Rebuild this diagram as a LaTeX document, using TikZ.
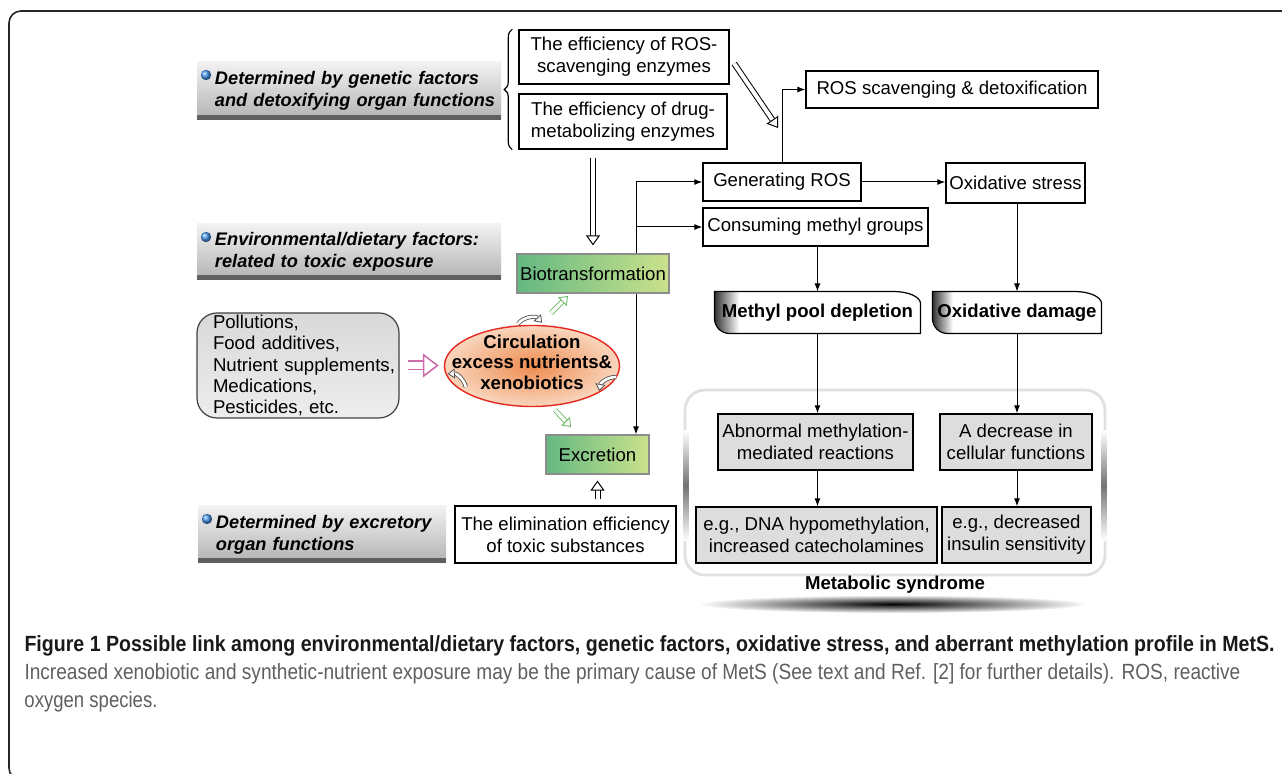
\documentclass[tikz,border=0pt]{standalone}
\usepackage{fontspec}
\usepackage{graphicx}
\setmainfont{Liberation Sans}
\usetikzlibrary{arrows.meta,positioning,calc,shapes.geometric,decorations.pathreplacing,backgrounds}

\definecolor{labtop}{RGB}{242,242,242}
\definecolor{labbot}{RGB}{178,178,178}
\definecolor{labbar}{RGB}{95,95,95}
\definecolor{bulletblue}{RGB}{70,150,235}
\definecolor{bioleft}{RGB}{100,184,130}
\definecolor{bioright}{RGB}{203,226,140}
\definecolor{boxgrey}{RGB}{221,221,221}
\definecolor{circin}{RGB}{238,140,80}
\definecolor{circout}{RGB}{249,214,190}
\definecolor{circline}{RGB}{230,40,30}
\definecolor{pinkarrow}{RGB}{205,110,170}
\definecolor{greenarrow}{RGB}{110,185,105}
\definecolor{capgrey}{RGB}{95,95,95}

\pgfdeclarehorizontalshading{tagshade}{100bp}{color(0bp)=(black!80); color(25bp)=(black!80); color(31bp)=(white); color(100bp)=(white)}

\newcommand{\txt}{\fontsize{9.3}{11}\selectfont}
\newcommand{\labtxt}{\fontsize{9.1}{11}\selectfont\bfseries\itshape}

\begin{document}
\begin{tikzpicture}[x=0.5pt, y=-0.5pt,
		> = {Latex[length=4pt,width=3pt]},
		line width=0.5pt,
		every node/.style={font=\txt, inner sep=0pt},
		plain/.style={draw, line width=0.7pt, fill=white, align=center},
		greybox/.style={plain, fill=boxgrey},
		greenbox/.style={draw=black!45, line width=0.6pt, left color=bioleft, right color=bioright},
		tagbox/.style={font=\txt\bfseries, minimum height=20.5pt},
		sidelabel/.style={top color=labtop, bottom color=labbot, text width=#1, align=left,
			font=\labtxt, execute at begin node={\leftskip=9pt},
			path picture={
				\fill[labbar] (path picture bounding box.south west) rectangle ([yshift=2.5pt]path picture bounding box.south east);
				\shade[ball color=bulletblue] ([xshift=4.5pt,yshift=-6.5pt]path picture bounding box.north west) circle (2.6pt);
			}},
		hollow/.style={draw=black, double=white, double distance=2pt, line width=0.5pt,
			-{Triangle[open, fill=white, length=5pt, width=7pt, line width=0.5pt]}},
		pinkhollow/.style={hollow, draw=pinkarrow, double distance=3.4pt, line width=0.8pt,
			-{Triangle[open, fill=white, length=8pt, width=12pt, line width=0.8pt]}},
		greenhollow/.style={hollow, draw=greenarrow, double distance=1.6pt, line width=0.45pt,
			-{Triangle[open, fill=white, length=4pt, width=6pt, line width=0.45pt]}},
		smallhollow/.style={hollow, draw=black!70, double distance=1.3pt, line width=0.4pt,
			-{Triangle[open, fill=white, length=3.5pt, width=5pt, line width=0.4pt]}}
		]
		\useasboundingbox (0,0) rectangle (1282,774);
		\clip (0,0) rectangle (1282,774);
		\draw[line width=0.8pt, black!85, rounded corners=6pt] (9,11) rectangle (1330,780);
		
		% side labels
		\node[sidelabel=152pt, minimum height=29pt] (detox) at (349,91) {Determined by genetic factors\\and detoxifying organ functions};
		\node[sidelabel=152pt, minimum height=28pt] (envir) at (349,252) {Environmental/dietary factors:\\related to toxic exposure};
		\node[sidelabel=124pt, minimum height=28.5pt] (excr) at (322,534.5) {Determined by excretory\\organ functions};
		
		% metabolic syndrome frame
		\node[draw=black!12, line width=1.4pt, rounded corners=10pt, minimum width=210pt, minimum height=92.5pt] (mets) at (895,482.5) {};
		\shade[top color=white, bottom color=white, middle color=black!55] ([yshift=26pt]mets.west) rectangle ([xshift=2.5pt,yshift=-29pt]mets.west);
		\shade[top color=white, bottom color=white, middle color=black!55] ([yshift=26pt]mets.east) rectangle ([xshift=-2.5pt,yshift=-29pt]mets.east);
		\node[font=\txt\bfseries] (msname) at (895,585) {Metabolic syndrome};
		\shade[inner color=black, outer color=white] (893,604) ellipse (195 and 9);
		
		% boxes
		\node[plain, minimum width=105pt, minimum height=27pt] (ros) at (624,57) {The efficiency of ROS-\\scavenging enzymes};
		\node[plain, minimum width=104pt, minimum height=27.5pt] (drug) at (623,121.5) {The efficiency of drug-\\metabolizing enzymes};
		\draw[decorate, decoration={brace, amplitude=4pt}, line width=0.6pt] ([xshift=-3pt]drug.south west) -- ([xshift=-3pt]ros.north west);
		\node[plain, minimum width=146pt, minimum height=18.5pt] (scav) at (952,89.5) {ROS scavenging \& detoxification};
		\node[plain, minimum width=79pt, minimum height=19pt] (gen) at (782,182) {Generating ROS};
		\node[plain, minimum width=69.5pt, minimum height=20pt] (oxs) at (1015.5,183) {Oxidative stress};
		\node[plain, minimum width=112.5pt, minimum height=19pt] (cons) at (815.5,227) {Consuming methyl groups};
		\node[greenbox, minimum width=76pt, minimum height=19.5pt] (bio) at (593,273.5) {Biotransformation};
		\node[greenbox, minimum width=51.5pt, minimum height=19.5pt] (exc) at (597.5,454.5) {Excretion};
		\node[plain, minimum width=110.5pt, minimum height=28.5pt] (elim) at (565.5,534.5) {The elimination efficiency\\of toxic substances};
		
		\node[draw=black!75, line width=0.6pt, rounded corners=10pt, top color=black!15, bottom color=black!7,
		minimum height=52.5pt, text width=101pt, align=left, font=\fontsize{9.3}{10.6}\selectfont,
		execute at begin node={\leftskip=8pt}] (poll) at (298,365.5) {Pollutions,\\Food additives,\\Nutrient supplements,\\Medications,\\Pesticides, etc.};
		\node[ellipse, draw=circline, line width=0.7pt, inner color=circin, outer color=circout,
		minimum width=87.5pt, minimum height=40.5pt] (circ) at (532,366) {};
		\node[align=center, font=\fontsize{9.3}{10.3}\selectfont\bfseries] (circtxt) at ([yshift=2pt]circ.center) {Circulation\\excess nutrients\&\\xenobiotics};
		
		\node[tagbox, minimum width=102.5pt] (methyl) at (817.5,312.5) {Methyl pool depletion};
		\node[tagbox, minimum width=84pt] (oxd) at (1017,312.5) {Oxidative damage};
		\begin{scope}[on background layer]
			\foreach \n in {methyl,oxd}
			\shadedraw[shading=tagshade, line width=0.6pt] (\n.north west) -- ([xshift=-13.5pt]\n.north east)
			arc[start angle=90, end angle=0, x radius=13.5pt, y radius=6pt] -- (\n.south east)
			-- ([xshift=7.5pt]\n.south west) arc[start angle=270, end angle=180, x radius=7.5pt, y radius=7.5pt] -- cycle;
		\end{scope}
		
		\node[greybox, minimum width=97.5pt, minimum height=28pt] (abn) at (815.5,442) {Abnormal methylation-\\mediated reactions};
		\node[greybox, minimum width=76pt, minimum height=28pt] (dec) at (1016,442) {A decrease in\\cellular functions};
		\node[greybox, minimum width=120.5pt, minimum height=28pt] (dna) at (816.5,535) {e.g., DNA hypomethylation,\\increased catecholamines};
		\node[greybox, minimum width=74.5pt, minimum height=28pt] (ins) at (1016.5,535) {e.g., decreased\\insulin sensitivity};
		
		% connectors
		\coordinate (tap) at ([xshift=21.5pt]bio.north);
		\draw[->] (tap) |- (gen.west);
		\draw[->] (tap) |- (cons.west);
		\draw[->] (tap |- bio.south) -- (tap |- exc.north);
		\draw[->] (gen.north) |- (scav.west);
		\draw[->] (gen.east) -- (gen.east -| oxs.west);
		\draw[->] (methyl.north |- cons.south) -- (methyl.north);
		\draw[->] (oxd.north |- oxs.south) -- (oxd.north);
		\draw[->] (methyl.south) -- (methyl.south |- abn.north);
		\draw[->] (oxd.south) -- (oxd.south |- dec.north);
		\draw[->] (methyl.south |- abn.south) -- (methyl.south |- dna.north);
		\draw[->] (oxd.south |- dec.south) -- (oxd.south |- ins.north);
		
		% hollow arrows
		\coordinate (rosin) at (778,128);
		\draw[hollow, shorten <=4pt] (ros.east) -- (rosin);
		\draw[hollow, shorten <=4pt, shorten >=4pt] (bio.north |- drug.south) -- (bio.north);
		\draw[hollow, shorten <=3pt, shorten >=3pt] (exc.south |- elim.north) -- (exc.south);
		\draw[pinkhollow, shorten <=4pt, shorten >=2.5pt] (poll.east) -- (poll.east -| circ.west);
		\coordinate (gup1) at (551,313);
		\coordinate (gup2) at (568,296);
		\coordinate (gdn1) at (555,410);
		\coordinate (gdn2) at (571,427);
		\draw[greenhollow] (gup1) -- (gup2);
		\draw[greenhollow] (gdn1) -- (gdn2);
		\draw[smallhollow] ([xshift=-7pt,yshift=0.5pt]circ.north) to[bend left=50] ([xshift=5pt,yshift=1pt]circ.north);
		\draw[smallhollow] ([xshift=11pt,yshift=-10.5pt]circ.west) to[bend right=40] ([xshift=2pt,yshift=-4pt]circ.west);
		\draw[smallhollow] ([xshift=-2pt,yshift=-5.5pt]circ.east) to[bend right=40] ([xshift=-10.5pt,yshift=-12.5pt]circ.east);
		
		% caption
		\node[anchor=base west, font=\fontsize{11}{13}\selectfont\bfseries, text=black!90] (capa) at (24,652) {\resizebox{625pt}{\height}{Figure 1 Possible link among environmental/dietary factors, genetic factors, oxidative stress, and aberrant methylation profile in MetS.}};
		\node[anchor=base west, font=\fontsize{11}{13}\selectfont, text=capgrey] (capb) at (24,680) {\resizebox{608pt}{\height}{Increased xenobiotic and synthetic-nutrient exposure may be the primary cause of MetS (See text and Ref. [2] for further details). ROS, reactive}};
		\node[anchor=base west, font=\fontsize{11}{13}\selectfont, text=capgrey] (capc) at (24,708) {\resizebox{66.5pt}{\height}{oxygen species.}};
	\end{tikzpicture}
\end{document}
